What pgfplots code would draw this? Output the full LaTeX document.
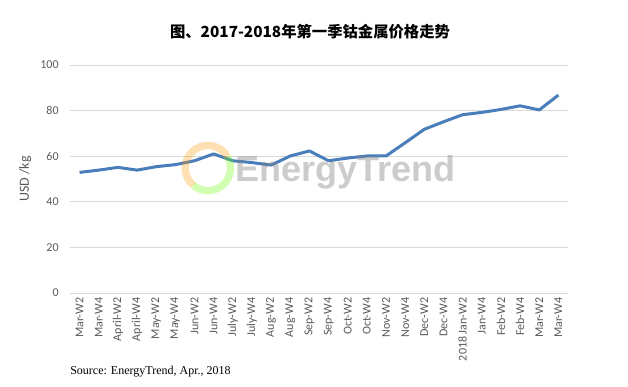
\documentclass[border=0pt]{standalone}
\usepackage{fontspec}
\usepackage{pgfplots}
\pgfplotsset{compat=1.18}
\setmainfont{Carlito}
\newfontfamily\cjk{Noto Sans CJK SC}
\newfontfamily\srcfont{Liberation Serif}
\newfontfamily\wmfont{Liberation Sans}
\definecolor{lineblue}{RGB}{74,126,187}
\definecolor{gridgray}{RGB}{217,217,217}
\definecolor{txtgray}{RGB}{89,89,89}
\begin{document}
\begin{tikzpicture}
\begin{axis}[
  scale only axis,
  width=373.5pt, height=171pt,
  xmin=-0.5, xmax=25.5, ymin=0, ymax=100,
  ytick={0,20,40,60,80,100},
  xtick={0,...,25},
  xticklabels={Mar-W2,Mar-W4,April-W2,April-W4,May-W2,May-W4,Jun-W2,Jun-W4,July-W2,July-W4,Aug-W2,Aug-W4,Sep-W2,Sep-W4,Oct-W2,Oct-W4,Nov-W2,Nov-W4,Dec-W2,Dec-W4,2018 Jan-W2,Jan-W4,Feb-W2,Feb-W4,Mar-W2,Mar-W4},
  xticklabel style={rotate=90, anchor=east, font=\fontsize{9}{10}\selectfont, text=txtgray},
  yticklabel style={font=\fontsize{9}{10}\selectfont, text=txtgray, xshift=-5pt},
  /pgf/number format/assume math mode=true,
  major tick length=0pt,
  axis x line*=bottom,
  axis y line*=left,
  x axis line style={draw=gridgray, line width=0.75pt, -},
  y axis line style={draw=none},
  ymajorgrids, grid style={draw=gridgray, line width=0.75pt},
  ylabel={USD /kg},
  ylabel style={at={(axis description cs:-0.09,0.5)}, anchor=center, font=\fontsize{10.5}{12}\selectfont, text=txtgray},
  title={\cjk\bfseries 图、2017-2018年第一季钴金属价格走势},
  title style={at={(axis description cs:0.482,1.11)}, anchor=center, font=\fontsize{11.5}{13}\selectfont},
  clip=false,
]
\addplot[lineblue, line width=2.25pt, line join=round] coordinates {
(0,52.9) (1,53.9) (2,55.1) (3,53.9) (4,55.4) (5,56.3) (6,58.0) (7,61.0)
(8,58.0) (9,57.2) (10,56.1) (11,60.1) (12,62.3) (13,58.0) (14,59.2) (15,60.1)
(16,60.1) (17,65.9) (18,71.8) (19,75.1) (20,78.2) (21,79.2) (22,80.5) (23,82.1)
(24,80.3) (25,86.8)};
\draw[orange!80!yellow, line width=5.5pt, opacity=0.3] ([shift={(30:17pt)}]axis cs:6.7,54.8) arc[start angle=30, end angle=230, radius=17pt];
\draw[green!60!yellow, line width=5.5pt, opacity=0.3] ([shift={(230:17pt)}]axis cs:6.7,54.8) arc[start angle=230, end angle=390, radius=17pt];
\node[anchor=center, text=gray, opacity=0.4, font=\wmfont\bfseries\fontsize{27}{30}\selectfont] at (axis cs:13.9,53) {EnergyTrend};
\node[anchor=west, inner sep=0pt, font=\srcfont\fontsize{9}{10}\selectfont] at (axis description cs:0,-0.346) {Source: EnergyTrend, Apr., 2018};
\end{axis}
\pgfresetboundingbox
\path (-52.5pt,-69.75pt) rectangle (418.5pt,219.75pt);
\end{tikzpicture}
\end{document}
